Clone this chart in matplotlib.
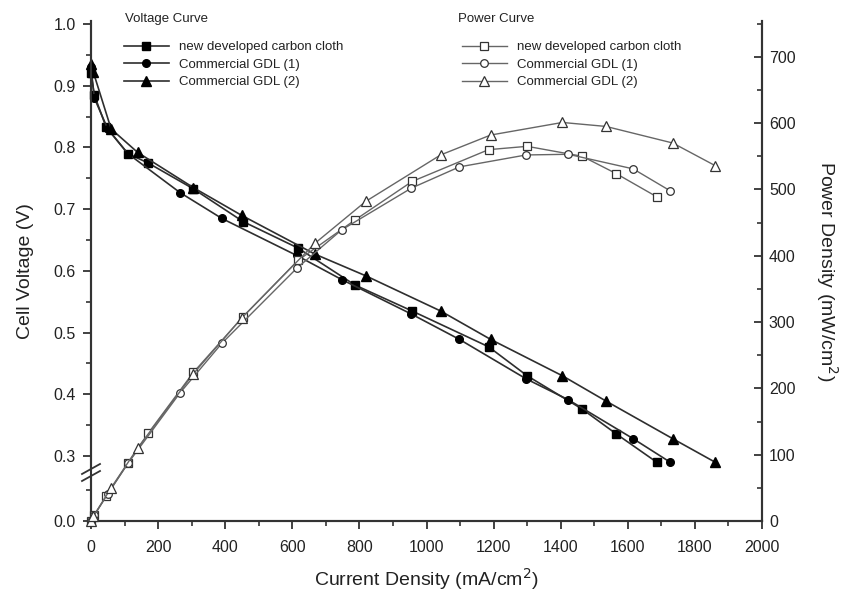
import numpy as np
import matplotlib
matplotlib.use("Agg")
import matplotlib.pyplot as plt
from matplotlib.lines import Line2D
from matplotlib.ticker import FixedLocator, NullFormatter, FixedFormatter

plt.rcParams['font.family'] = ['Liberation Sans', 'DejaVu Sans']

# ---------------- data ----------------
# new developed carbon cloth
I_sq = [0, 10, 45, 110, 170, 305, 453, 617, 787, 957, 1185, 1300, 1464, 1565, 1686]
V_sq = [0.92, 0.885, 0.833, 0.79, 0.775, 0.733, 0.68, 0.637, 0.577, 0.535, 0.477, 0.43, 0.376, 0.336, 0.29]
P_sq = [0, 9, 37, 87, 132, 224, 308, 393, 454, 512, 560, 565, 550, 524, 489]

# Commercial GDL (1)
I_ci = [0, 10, 50, 110, 265, 390, 613, 747, 955, 1098, 1297, 1423, 1616, 1726]
V_ci = [0.93, 0.88, 0.83, 0.79, 0.727, 0.685, 0.625, 0.586, 0.53, 0.489, 0.425, 0.391, 0.328, 0.29]
P_ci = [0, 9, 41, 87, 193, 268, 381, 439, 502, 534, 552, 553, 531, 498]

# Commercial GDL (2)
I_tr = [0, 7, 60, 139, 305, 449, 668, 819, 1042, 1191, 1405, 1535, 1734, 1860]
V_tr = [0.935, 0.922, 0.83, 0.792, 0.735, 0.69, 0.627, 0.592, 0.535, 0.489, 0.43, 0.389, 0.328, 0.29]
P_tr = [0, 7, 50, 110, 222, 306, 419, 482, 552, 582, 601, 595, 570, 536]

labels = ["new developed carbon cloth", "Commercial GDL (1)", "Commercial GDL (2)"]
x_ticks = list(range(0, 2001, 200))
v_major = [0.0, 0.3, 0.4, 0.5, 0.6, 0.7, 0.8, 0.9, 1.0]
p_major = list(range(0, 701, 100))

# ---------------- broken left scale ----------------
L_CUT = 0.0827
GAP = 0.1946


def fwd(v):
    v = np.asarray(v, dtype=float)
    return np.where(v <= L_CUT, v, np.where(v >= L_CUT + GAP, v - GAP, L_CUT))


def inv(u):
    u = np.asarray(u, dtype=float)
    return np.where(u <= L_CUT, u, u + GAP)


fig = plt.figure(figsize=(8.5, 5.95), dpi=100)
ax = fig.add_axes([91 / 850, 74 / 595, 671 / 850, 500 / 595])
ax.set_yscale('function', functions=(fwd, inv))
ax.set_xlim(0, 2000)
ax.set_ylim(0.0, 1.005)

ax2 = ax.twinx()
ax2.set_ylim(0, 754)

vcol = '#2e2e2e'
pcol = '#666666'
txtc = '#222222'

styles = [('s', 5.5), ('o', 5.5), ('^', 6.5)]
vdata = [(I_sq, V_sq), (I_ci, V_ci), (I_tr, V_tr)]
pdata = [(I_sq, P_sq), (I_ci, P_ci), (I_tr, P_tr)]

for (I, V), (m, ms) in zip(vdata, styles):
    ax.plot(I, V, color=vcol, lw=1.2, marker=m, ms=ms, mfc='black', mec='black',
            clip_on=False, zorder=3)

for (I, P), (m, ms) in zip(pdata, styles):
    ax2.plot(I, P, color=pcol, lw=1.0, marker=m, ms=ms, mfc='white', mec='#333333',
             mew=0.9, clip_on=False, zorder=3)

# ticks
ax.xaxis.set_major_locator(FixedLocator(x_ticks))
ax.xaxis.set_minor_locator(FixedLocator(list(range(100, 2000, 200))))
ax.yaxis.set_major_locator(FixedLocator(v_major))
ax.yaxis.set_major_formatter(FixedFormatter([f"{v:.1f}" for v in v_major]))
ax.yaxis.set_minor_locator(FixedLocator([0.05, 0.35, 0.45, 0.55, 0.65, 0.75, 0.85, 0.95]))
ax.yaxis.set_minor_formatter(NullFormatter())
ax2.yaxis.set_major_locator(FixedLocator(p_major))
ax2.yaxis.set_minor_locator(FixedLocator(list(range(50, 751, 100))))

for a in (ax, ax2):
    for s in a.spines.values():
        s.set_linewidth(1.5)
        s.set_color('#333333')
    a.spines['top'].set_visible(False)

ax.tick_params(axis='x', which='major', direction='out', length=6, width=1.3,
               labelsize=11.5, colors='#333333', labelcolor=txtc, pad=8)
ax.tick_params(axis='y', which='major', direction='out', length=6, width=1.3,
               labelsize=11.5, colors='#333333', labelcolor=txtc, pad=5)
ax.tick_params(axis='both', which='minor', direction='out', length=3.5, width=1.2,
               colors='#333333')
ax2.tick_params(axis='y', which='major', direction='in', length=6, width=1.3,
                labelsize=11.5, colors='#333333', labelcolor=txtc, pad=5)
ax2.tick_params(axis='y', which='minor', direction='in', length=3.5, width=1.2,
                colors='#333333')

ax.set_xlabel("Current Density (mA/cm$^2$)", fontsize=14, color=txtc, labelpad=8)
ax.set_ylabel("Cell Voltage (V)", fontsize=14, color=txtc, labelpad=14)
ax2.set_ylabel("Power Density (mW/cm$^2$)", fontsize=14, color=txtc, rotation=270,
               labelpad=32)

# break marks on left spine
trans = ax.transAxes


def px2ax(xp, yp):
    return ((xp - 91) / 671, (521 - yp) / 500)


poly_pts = [px2ax(82, 474), px2ax(100, 464), px2ax(100, 471), px2ax(82, 481)]
ax.add_patch(plt.Polygon(poly_pts, closed=True, facecolor='white', edgecolor='none',
                         transform=trans, clip_on=False, zorder=5))
for y0 in (474, 481):
    (x1, y1), (x2, y2) = px2ax(82, y0), px2ax(100, y0 - 10)
    ax.add_line(Line2D([x1, x2], [y1, y2], transform=trans, color='#333333', lw=1.3,
                       clip_on=False, zorder=6))

# legends
vh = [Line2D([], [], color=vcol, lw=1.2, marker=m, ms=ms, mfc='black', mec='black')
      for (m, ms) in styles]
ph = [Line2D([], [], color=pcol, lw=1.0, marker=m, ms=ms, mfc='white', mec='#333333', mew=0.9)
      for (m, ms) in styles]
leg_kw = dict(frameon=False, fontsize=9.5, handlelength=3.4,
              handletextpad=0.75, labelspacing=0.4, borderpad=0, borderaxespad=0,
              loc='upper left')
leg1 = fig.legend(vh, labels, bbox_to_anchor=(124 / 850, 1 - 41 / 595), **leg_kw)
leg2 = fig.legend(ph, labels, bbox_to_anchor=(462 / 850, 1 - 41 / 595), **leg_kw)
for lg in (leg1, leg2):
    for t in lg.get_texts():
        t.set_color(txtc)

fig.text(125 / 850, 1 - 19 / 595, "Voltage Curve", fontsize=9.5, color=txtc,
         ha='left', va='center')
fig.text(458 / 850, 1 - 19 / 595, "Power Curve", fontsize=9.5, color=txtc,
         ha='left', va='center')

fig.savefig("out.png", dpi=100)
